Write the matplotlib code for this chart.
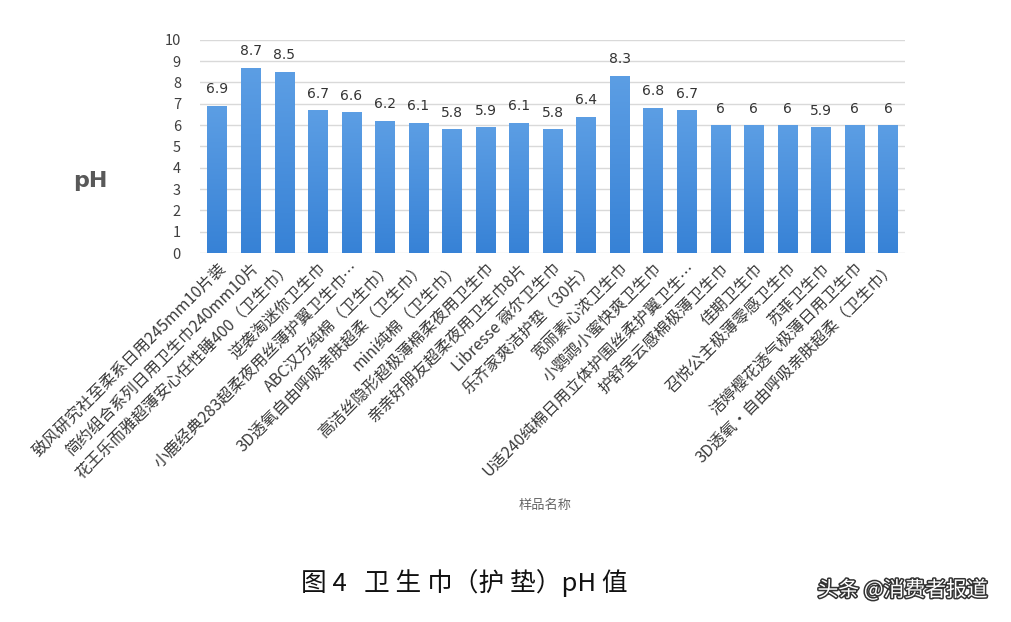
import matplotlib

matplotlib.use("Agg")
import matplotlib.pyplot as plt
import matplotlib.patheffects as pe
import numpy as np

plt.rcParams["font.family"] = ["Noto Sans CJK SC", "DejaVu Sans"]

# Sample names (x categories) and measured pH values
samples = [
    "致风研究社至柔系日用245mm10片装",
    "简约组合系列日用卫生巾240mm10片",
    "花王乐而雅超薄安心任性睡400（卫生巾）",
    "逆袭淘迷你卫生巾",
    "小鹿经典283超柔夜用丝薄护翼卫生巾…",
    "ABC汉方纯棉（卫生巾）",
    "3D透氧自由呼吸亲肤超柔（卫生巾）",
    "mini纯棉（卫生巾）",
    "高洁丝隐形超极薄棉柔夜用卫生巾",
    "亲亲好朋友超柔夜用卫生巾8片",
    "Libresse 薇尔卫生巾",
    "乐齐家爽洁护垫（30片）",
    "宽丽素心浓卫生巾",
    "小鹦鹉小蜜快爽卫生巾",
    "U适240纯棉日用立体护围丝柔护翼卫生…",
    "护舒宝云感棉极薄卫生巾",
    "佳期卫生巾",
    "召悦公主极薄零感卫生巾",
    "苏菲卫生巾",
    "洁婷樱花透气极薄日用卫生巾",
    "3D透氧·自由呼吸亲肤超柔（卫生巾）",
]
ph_values = [6.9, 8.7, 8.5, 6.7, 6.6, 6.2, 6.1, 5.8, 5.9, 6.1, 5.8,
             6.4, 8.3, 6.8, 6.7, 6, 6, 6, 5.9, 6, 6]
y_ticks = list(range(0, 11))

TEXT = "#404040"
GRID = "#d9d9d9"

fig = plt.figure(figsize=(10.12, 6.22), dpi=100)
fig.patch.set_facecolor("white")
ax = fig.add_axes([0.198, 0.593, 0.696, 0.343])

x = np.arange(len(samples))
bars = ax.bar(x, ph_values, width=0.58, color="#4a8fdc", zorder=3)

# vertical gradient inside each bar (slightly lighter top)
grad = np.linspace(0, 1, 64).reshape(-1, 1)
cmap = matplotlib.colors.LinearSegmentedColormap.from_list(
    "bar", ["#3782d6", "#4a90dd", "#5c9ee4"])
for b in bars:
    x0, w, h = b.get_x(), b.get_width(), b.get_height()
    im = ax.imshow(grad, extent=(x0, x0 + w, 0, h), origin="lower",
                   cmap=cmap, aspect="auto", zorder=4)
    im.set_clip_path(b)

for xi, v in zip(x, ph_values):
    ax.text(xi, v + 0.45, f"{v:g}", ha="center", va="bottom",
            fontsize=10, color="#333333", family="DejaVu Sans", zorder=5)

ax.set_xlim(-0.5, len(samples) - 0.5)
ax.set_ylim(0, 10)
ax.set_yticks(y_ticks)
ax.grid(axis="y", color=GRID, linewidth=1.0, zorder=0)
ax.set_axisbelow(True)
for s in ax.spines.values():
    s.set_visible(False)
ax.tick_params(axis="y", length=0, pad=14, labelsize=10.5, labelcolor=TEXT)
ax.tick_params(axis="x", length=0, pad=5)
ax.set_xticks(x)
ax.set_xticklabels(samples, rotation=45, ha="right", rotation_mode="anchor",
                   fontsize=11.5, color="#3a3a3a")

fig.text(0.089, 0.709, "pH", fontsize=16, fontweight="bold", color="#595959",
         ha="center", va="center", family="DejaVu Sans")
fig.text(0.539, 0.188, "样品名称", fontsize=9.5, color="#666666",
         ha="center", va="center")
fig.text(0.459, 0.062, "图 4   卫 生 巾（护 垫）pH 值", fontsize=18.5, color="#111111",
         ha="center", va="center")
fig.text(0.892, 0.051, "头条 @消费者报道", fontsize=15, color="white",
         ha="center", va="center",
         path_effects=[pe.withStroke(linewidth=2.2, foreground="#333333")])

fig.savefig("out.png", dpi=100, facecolor="white")
